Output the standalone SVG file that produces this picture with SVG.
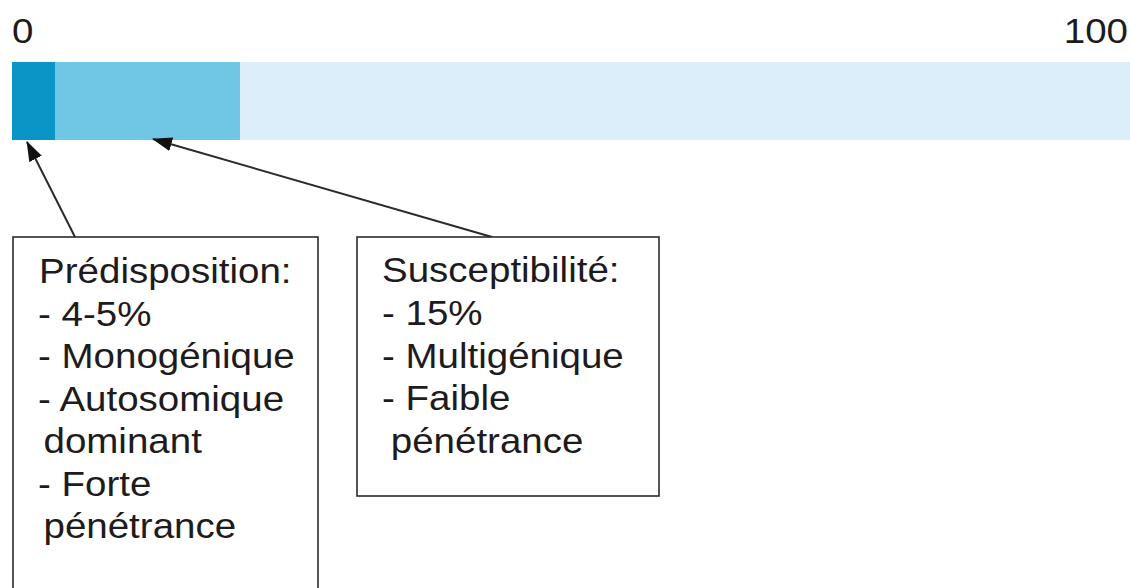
<svg xmlns="http://www.w3.org/2000/svg" width="1130" height="588" viewBox="0 0 1130 588">
<style>
.t{font-family:"Liberation Sans",Arial,sans-serif;font-size:35px;fill:#1e1b1c}
.n{font-family:"Liberation Sans",Arial,sans-serif;font-size:35px;fill:#1e1b1c}
.box{fill:#fff;stroke:#2b2b2b;stroke-width:1.6}
.conn{stroke:#2b2b2b;stroke-width:2;fill:none}
</style>
<defs>
<marker id="ah2" viewBox="0 0 20 14" refX="19" refY="7" markerWidth="20" markerHeight="14" markerUnits="userSpaceOnUse" orient="auto">
<path d="M0,0 L20,7 L0,14 z" fill="#111"/>
</marker>
</defs>
<g id="scale">
<text class="n" transform="translate(12,43) scale(1.1,1)">0</text>
<text class="n" transform="translate(1128,43) scale(1.1,1)" text-anchor="end">100</text>
</g>
<g id="bar">
<rect x="12" y="62" width="1118" height="78" fill="#dbeef9"/>
<rect x="55" y="62" width="185" height="78" fill="#70c6e5"/>
<rect x="12" y="62" width="43" height="78" fill="#0b95c6"/>
</g>
<g id="connectors">
<line class="conn" x1="75" y1="237" x2="27" y2="142" marker-end="url(#ah2)"/>
<line class="conn" x1="492" y1="237" x2="153" y2="139" marker-end="url(#ah2)"/>
</g>
<g id="box-predisposition">
<rect class="box" x="13" y="237" width="305" height="360"/>
<g transform="translate(38,0) scale(1.1,1)">
<text class="t" x="1" y="283">Prédisposition:</text>
<text class="t" x="0" y="326">- 4-5%</text>
<text class="t" x="0" y="368">- Monogénique</text>
<text class="t" x="0" y="411">- Autosomique</text>
<text class="t" x="5" y="453">dominant</text>
<text class="t" x="0" y="496">- Forte</text>
<text class="t" x="5" y="538">pénétrance</text>
</g>
</g>
<g id="box-susceptibilite">
<rect class="box" x="357" y="237" width="302" height="259"/>
<g transform="translate(382,0) scale(1.1,1)">
<text class="t" x="0" y="282">Susceptibilité:</text>
<text class="t" x="0" y="325">- 15%</text>
<text class="t" x="0" y="368">- Multigénique</text>
<text class="t" x="0" y="410">- Faible</text>
<text class="t" x="8" y="453">pénétrance</text>
</g>
</g>
</svg>
